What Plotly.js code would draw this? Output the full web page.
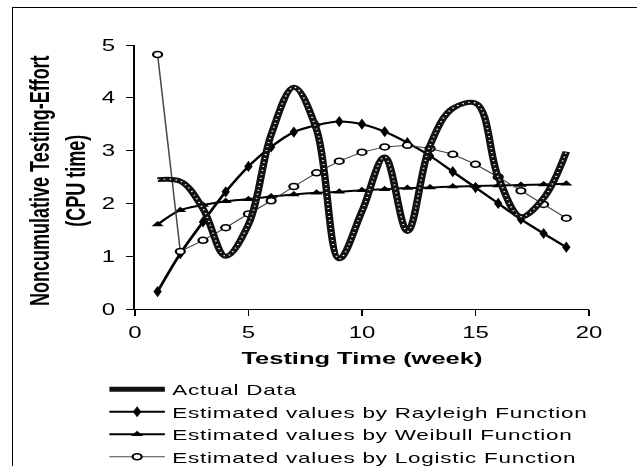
<!DOCTYPE html>
<html>
<head>
<meta charset="utf-8">
<script src="https://cdn.plot.ly/plotly-3.0.1.min.js"></script>
<style>
html,body{margin:0;padding:0;background:#fff;}
#wrap{position:relative;width:637px;height:466px;overflow:hidden;background:#fff;}
#chart{position:absolute;left:0;top:0;width:425px;height:466px;transform:scaleX(1.4988);transform-origin:0 0;}
#frame{position:absolute;left:12px;top:7px;width:640px;height:470px;border-left:1.5px solid #000;border-top:1.5px solid #000;pointer-events:none;}
#chart .legendtext{letter-spacing:0.5px;}
#chart .scrollbox{clip-path:none !important;}
#chart svg{overflow:visible;}
</style>
</head>
<body>
<div id="wrap"><div id="chart"></div><div id="frame"></div></div>
<script>
const weeks = [1,2,3,4,5,6,7,8,9,10,11,12,13,14,15,16,17,18,19];
const actualData = [2.45,2.42,1.9,1.0,1.6,3.3,4.2,3.4,0.95,1.85,2.88,1.47,3.1,3.8,3.9,2.5,1.75,2.1,2.98];
const rayleigh = [0.33,1.05,1.65,2.22,2.7,3.07,3.35,3.48,3.55,3.5,3.36,3.15,2.9,2.6,2.3,2.0,1.7,1.43,1.17];
const weibull = [1.6,1.87,1.97,2.04,2.08,2.13,2.17,2.2,2.22,2.25,2.27,2.29,2.3,2.32,2.33,2.34,2.35,2.36,2.37];
const logistic = [4.82,1.09,1.3,1.54,1.8,2.05,2.32,2.58,2.8,2.97,3.07,3.1,3.04,2.93,2.74,2.5,2.24,1.98,1.72];
const names = ["Actual Data","Estimated values by Rayleigh Function","Estimated values by Weibull Function","Estimated values by Logistic Function"];
const xTicks = [0,5,10,15,20];
const yTicks = [0,1,2,3,4,5];

const traces = [
  {x:weeks,y:rayleigh,name:names[1],mode:'lines+markers',line:{color:'#000',width:2,shape:'spline'},marker:{symbol:'diamond-tall',size:8,color:'#000'},legendrank:2},
  {x:weeks,y:weibull,name:names[2],mode:'lines+markers',line:{color:'#000',width:2,shape:'spline'},marker:{symbol:'triangle-up',size:7,color:'#000'},legendrank:3},
  {x:weeks,y:logistic,name:names[3],mode:'lines+markers',line:{color:'#444',width:1},marker:{symbol:'circle',size:6,color:'#fff',line:{color:'#000',width:1.5}},legendrank:4},
  {x:weeks,y:actualData,name:names[0],mode:'lines',line:{color:'#111',width:5,shape:'spline',smoothing:1},legendrank:1},
  {x:weeks,y:actualData,name:names[0],mode:'lines',line:{color:'#fff',width:1.2,shape:'spline',smoothing:1,dash:'1px,3px'},showlegend:false,hoverinfo:'skip'}
];

const layout = {
  width:425,height:466,
  margin:{l:90,r:32,t:45,b:157,autoexpand:false},
  paper_bgcolor:'rgba(0,0,0,0)',plot_bgcolor:'rgba(0,0,0,0)',
  font:{family:'Arial, Liberation Sans, sans-serif',color:'#000'},
  showlegend:true,
  legend:{xref:'container',yref:'container',x:68/425,y:1-373/466,xanchor:'left',yanchor:'top',
          font:{size:15,family:'Arial, Liberation Sans, sans-serif'},itemwidth:37,tracegroupgap:0,bgcolor:'rgba(0,0,0,0)'},
  xaxis:{range:[0,20],tickvals:xTicks,ticks:'outside',ticklen:6,tickcolor:'#000',showline:true,linecolor:'#000',linewidth:1,
         showgrid:false,zeroline:false,tickfont:{size:16},ticklabelstandoff:3},
  yaxis:{range:[0,5],tickvals:yTicks,ticks:'outside',ticklen:5,tickcolor:'#000',showline:true,linecolor:'#000',linewidth:1,
         showgrid:false,zeroline:false,tickfont:{size:16},ticklabelstandoff:4},
  annotations:[
    {text:'<b>Testing Time (week)</b>',xref:'paper',yref:'paper',x:0.5,y:(309-358)/264,xanchor:'center',yanchor:'middle',showarrow:false,font:{size:17}},
    {text:'<b>Noncumulative Testing-Effort<br>(CPU time)</b>',xref:'paper',yref:'paper',x:(38-90)/303,y:(309-181)/264,xanchor:'center',yanchor:'middle',textangle:-90,showarrow:false,font:{size:18}}
  ]
};
Plotly.newPlot('chart',traces,layout,{displayModeBar:false,staticPlot:true});
</script>
</body>
</html>
